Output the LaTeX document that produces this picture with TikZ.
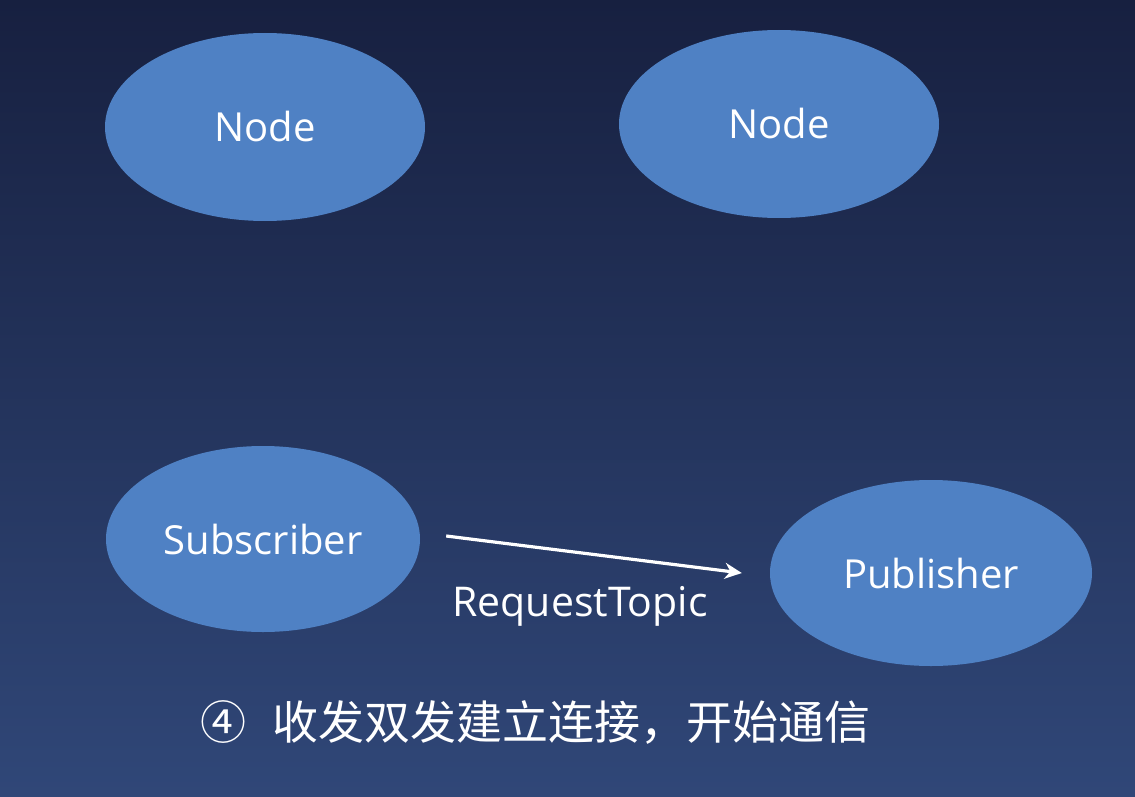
\documentclass[tikz,border=0pt]{standalone}
\usepackage{fontspec}
\setmainfont{Open Sans}
\newfontfamily\cjk{Noto Sans CJK SC}
\usepackage{tikz}
\usetikzlibrary{arrows.meta,calc,positioning,shapes.geometric}
\definecolor{bgtop}{RGB}{23,32,64}
\definecolor{bgbottom}{RGB}{48,71,120}
\definecolor{nodeblue}{RGB}{79,129,196}
\tikzstyle{vertex}=[ellipse,fill=nodeblue,text=white,minimum width=320pt,minimum height=188pt,inner sep=0pt,font=\fontsize{40}{42}\selectfont]
\tikzstyle{msg}=[white,line width=3.2pt,-{Stealth[length=17pt,width=16pt]}]

\begin{document}
\begin{tikzpicture}[x=1pt,y=-1pt]
  \shade[top color=bgtop,bottom color=bgbottom] (0,0) rectangle (1135,797);
  \useasboundingbox (0,0) rectangle (1135,797);

  \node[vertex] (n1) at (265,127) {Node};
  \node[vertex] (n2) at (779,124) {Node};
  \node[vertex,minimum width=314pt,minimum height=186pt] (n3) at (263,539) {Subscriber};
  \node[vertex,minimum width=322pt,minimum height=186pt] (n4) at (931,573) {Publisher};
  \node[text=white,font=\fontsize{41}{43}\selectfont] (n5) at (580,606) {RequestTopic};
  \node[text=white,anchor=west,font=\cjk\fontsize{46}{49}\selectfont] (n6) at (197,722) {④\hspace{26pt}收发双发建立连接，开始通信};

  \draw[msg] ([xshift=26pt,yshift=3pt]n3.east) -- ([xshift=-28pt]n4.west);
\end{tikzpicture}
\end{document}
